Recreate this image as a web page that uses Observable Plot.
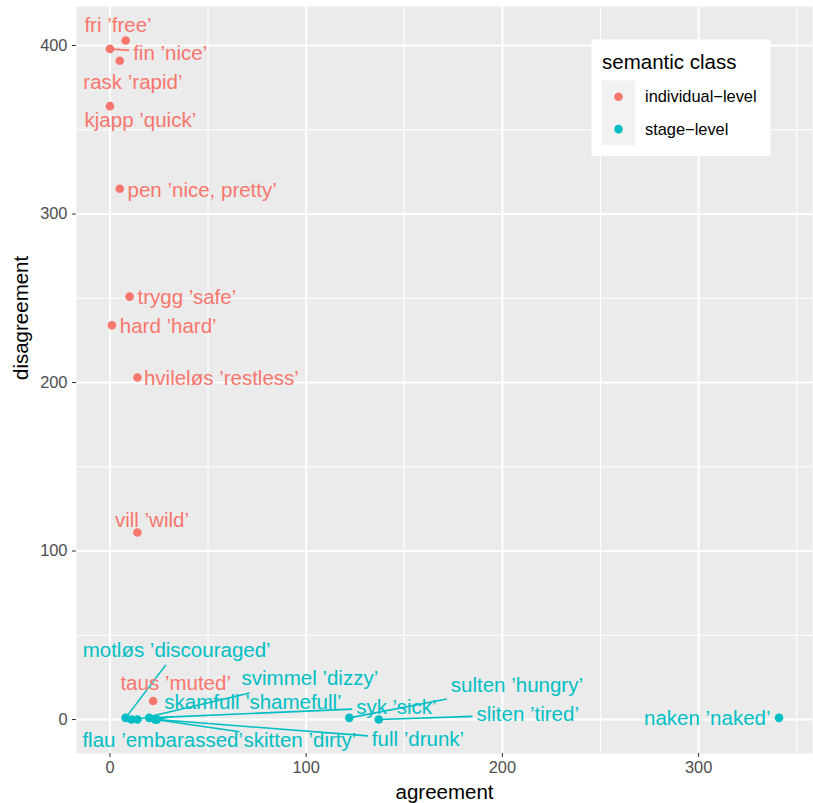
<!DOCTYPE html>
<html><head><meta charset="utf-8">
<script src="https://cdn.jsdelivr.net/npm/d3@7"></script>
<script src="https://cdn.jsdelivr.net/npm/@observablehq/plot@0.6"></script>
<style>
body{margin:0;background:#fff;}
#wrap{position:relative;width:813px;height:803px;font-family:"Liberation Sans",Arial,Helvetica,sans-serif;}
#wrap svg.overlay{position:absolute;left:0;top:0;pointer-events:none;}
</style></head><body><div id="wrap"></div>
<script>
// ---- data ----
const lemmas = ["fri","fin","rask","kjapp","pen","trygg","hard","hvileløs","vill","taus",
                "motløs","flau","svimmel","skamfull","syk","skitten","full","sulten","sliten","naken"];
const glosses = ["free","nice","rapid","quick","nice, pretty","safe","hard","restless","wild","muted",
                 "discouraged","embarassed","dizzy","shamefull","sick","dirty","drunk","hungry","tired","naked"];
const agreement    = [8, 0, 5, 0, 5, 10, 1, 14, 14, 22,  8, 11, 14, 23, 20, 23, 24, 122, 137, 341];
const disagreement = [403, 398, 391, 364, 315, 251, 234, 203, 111, 11,  1, 0, 0, 0, 1, 0, 0, 1, 0, 1];
const semanticClass = ["individual−level","individual−level","individual−level","individual−level","individual−level",
                       "individual−level","individual−level","individual−level","individual−level","individual−level",
                       "stage−level","stage−level","stage−level","stage−level","stage−level",
                       "stage−level","stage−level","stage−level","stage−level","stage−level"];
// repelled label anchors (data units)
const labelAgreement    = [4.1, 30.7, 11.7, 15.5, 47.0, 39.2, 29.7, 56.8, 21.4, 33.5,
                           34.0, 26.9, 101.9, 72.9, 146.0, 96.8, 157.0, 207.4, 212.9, 304.4];
const labelDisagreement = [411.9, 395.3, 378.0, 355.5, 313.9, 250.4, 233.4, 202.2, 118.1, 21.2,
                           40.9, -12.5, 24.2, 10.3, 7.3, -12.5, -12.0, 20.2, 3.0, 0.4];
const classes = ["individual−level","stage−level"];
const classColors = ["#F8766D","#00BFC4"];
const xTicks = [0,100,200,300];
const yTicks = [0,100,200,300,400];
const xMinor = [50,150,250,350];
const yMinor = [50,150,250,350];

// ---- layout ----
const W = 813, H = 803, mL = 76, mR = 1, mT = 6, mB = 50;
const FONT = '"Liberation Sans",Arial,Helvetica,sans-serif';
const labelSize = 20.5, tickSize = 16.4;

const expand = (lo, hi) => { const d = (hi - lo) * 0.05; return [lo - d, hi + d]; };
const xDomain = expand(d3.min(agreement), d3.max(agreement));
const yDomain = expand(d3.min(disagreement), d3.max(disagreement));

const rows = lemmas.map((w, i) => ({
  label: `${w} ’${glosses[i]}’`, x: agreement[i], y: disagreement[i], cls: semanticClass[i],
  lx: labelAgreement[i], ly: labelDisagreement[i]
}));

// segments like ggrepel: from the point toward the label centre, stopping at the padded label box
const xs = Plot.scale({x: {domain: xDomain, range: [mL, W - mR]}});
const ys = Plot.scale({y: {domain: yDomain, range: [H - mB, mT]}});
const ctx = document.createElement("canvas").getContext("2d");
ctx.font = `${labelSize}px ${FONT}`;
const pad = 4;
const segs = [];
for (const r of rows) {
  const px = xs.apply(r.x), py = ys.apply(r.y), cx = xs.apply(r.lx), cy = ys.apply(r.ly);
  const hw = ctx.measureText(r.label).width / 2 + pad, hh = labelSize / 2 + pad;
  const L = cx - hw, R = cx + hw, T = cy - hh, B = cy + hh;
  let tx = 0, ty = 0;
  if (px < L) tx = (L - px) / (cx - px); else if (px > R) tx = (R - px) / (cx - px);
  if (py < T) ty = (T - py) / (cy - py); else if (py > B) ty = (B - py) / (cy - py);
  const t = Math.max(tx, ty);
  const ex = px + t * (cx - px), ey = py + t * (cy - py);
  const len = Math.hypot(ex - px, ey - py);
  if (len > 13) segs.push({x1: r.x, y1: r.y, x2: xs.invert(ex), y2: ys.invert(ey), cls: r.cls});
}

const chart = Plot.plot({
  width: W, height: H, marginLeft: mL, marginRight: mR, marginTop: mT, marginBottom: mB,
  x: {domain: xDomain},
  y: {domain: yDomain},
  color: {domain: classes, range: classColors},
  style: {fontFamily: FONT, background: "white"},
  marks: [
    Plot.frame({fill: "#EBEBEB", stroke: "none"}),
    Plot.ruleX(xMinor, {stroke: "white", strokeWidth: 1}),
    Plot.ruleY(yMinor, {stroke: "white", strokeWidth: 1}),
    Plot.ruleX(xTicks, {stroke: "white", strokeWidth: 2}),
    Plot.ruleY(yTicks, {stroke: "white", strokeWidth: 2}),
    Plot.axisX({ticks: xTicks, tickSize: 4, tickPadding: 4, fontSize: tickSize, stroke: "#333333", fill: "#4D4D4D", label: null}),
    Plot.axisY({ticks: yTicks, tickSize: 4, tickPadding: 5, fontSize: tickSize, stroke: "#333333", fill: "#4D4D4D", label: null}),
    Plot.dot(rows, {x: "x", y: "y", fill: "cls", r: 4.3}),
    Plot.link(segs, {x1: "x1", y1: "y1", x2: "x2", y2: "y2", stroke: "cls", strokeWidth: 1.6}),
    Plot.text(rows, {x: "lx", y: "ly", text: "label", fill: "cls", fontSize: labelSize}),
    Plot.text(["agreement"], {frameAnchor: "bottom", lineAnchor: "middle", dy: 39, fontSize: labelSize, fill: "black"}),
    Plot.text(["disagreement"], {frameAnchor: "left", lineAnchor: "middle", dx: -55, rotate: -90, fontSize: labelSize, fill: "black"})
  ]
});
const wrap = document.getElementById("wrap");
wrap.appendChild(chart);

// ---- legend (inside the panel, top right) ----
const lg = d3.select(wrap).append("svg").attr("class", "overlay").attr("width", W).attr("height", H)
  .style("font-family", FONT);
lg.append("rect").attr("x", 591.5).attr("y", 39.5).attr("width", 179).attr("height", 116.5).attr("fill", "white");
lg.append("text").attr("x", 602).attr("y", 61.5).attr("dy", "0.35em").attr("font-size", labelSize)
  .attr("fill", "black").text("semantic class");
classes.forEach((c, i) => {
  const cy = 96.7 + i * 32.4;
  lg.append("rect").attr("x", 602).attr("y", cy - 16.2).attr("width", 33).attr("height", 32.4).attr("fill", "#F2F2F2");
  lg.append("circle").attr("cx", 618.5).attr("cy", cy).attr("r", 4.3).attr("fill", classColors[i]);
  lg.append("text").attr("x", 645).attr("y", cy).attr("dy", "0.35em").attr("font-size", tickSize)
    .attr("fill", "black").text(c);
});
</script></body></html>
